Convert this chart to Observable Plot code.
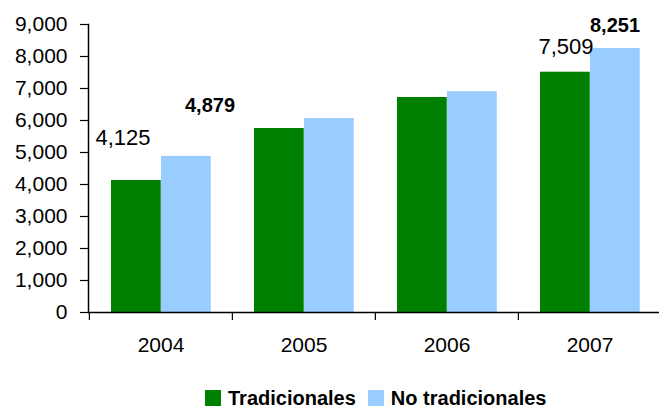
<!DOCTYPE html>
<html>
<head>
<meta charset="utf-8">
<script src="https://cdn.jsdelivr.net/npm/d3@7"></script>
<script src="https://cdn.jsdelivr.net/npm/@observablehq/plot@0.6"></script>
<style>
  html, body { margin: 0; padding: 0; background: #fff; overflow: hidden; }
  #chart { width: 659px; }
  .legend { display: flex; align-items: center; font-family: "Liberation Sans", Arial, sans-serif; font-weight: bold; font-size: 20px; color: #000; padding-left: 205px; margin-top: 15px; height: 22px; }
  .legend span.sw { display: inline-block; width: 16px; height: 16px; margin-right: 7px; }
  .legend span.item { display: inline-flex; align-items: center; margin-right: 12px; white-space: nowrap; }
</style>
</head>
<body>
<div id="chart"></div>
<script>
const years = ["2004", "2005", "2006", "2007"];
const tradicionales = [4125, 5750, 6720, 7509];
const noTradicionales = [4879, 6060, 6900, 8251];
const seriesNames = ["Tradicionales", "No tradicionales"];
const seriesColors = ["#008000", "#99ccff"];
const yTicks = [0, 1000, 2000, 3000, 4000, 5000, 6000, 7000, 8000, 9000];
const labeledYears = ["2004", "2007"];

const rows = years.map((y, i) => ({year: y, trad: tradicionales[i], notrad: noTradicionales[i]}));
const fmt = d3.format(",");
const font = '"Liberation Sans", Arial, sans-serif';

const W = 659, ML = 88, MR = -2;
const step = (W - ML - MR) / years.length;

const chart = Plot.plot({
  width: W,
  height: 372,
  marginLeft: ML,
  marginRight: MR,
  marginTop: 24,
  marginBottom: 60,
  style: {fontFamily: font, fontSize: "21px", color: "#000", background: "#fff", overflow: "hidden"},
  x: {domain: years, padding: 0, label: null},
  y: {domain: [0, 9000], label: null},
  marks: [
    Plot.barY(rows, {x: "year", y: "trad", fill: seriesColors[0], insetLeft: 22, insetRight: step - 72}),
    Plot.barY(rows, {x: "year", y: "notrad", fill: seriesColors[1], insetLeft: 72, insetRight: step - 122}),
    Plot.ruleY([0], {stroke: "#000", strokeWidth: 1.5}),
    Plot.frame({anchor: "left", stroke: "#000", strokeWidth: 1.5}),
    Plot.axisY({ticks: yTicks, tickFormat: fmt, tickSize: 8, tickPadding: 13, fontSize: 21, stroke: "#000", strokeWidth: 1.2}),
    Plot.axisX({tickSize: 0, tickPadding: 25, fontSize: 21, label: null}),
    Plot.axisX({tickSize: 8, tickFormat: null, dx: -step / 2, stroke: "#000", strokeWidth: 1.2, label: null}),
    Plot.text(rows.filter(d => d.year === labeledYears[0]), {x: "year", y: "trad", text: d => fmt(d.trad), dx: -38, dy: -43, fontSize: 22, fill: "#000"}),
    Plot.text(rows.filter(d => d.year === labeledYears[0]), {x: "year", y: "notrad", text: d => fmt(d.notrad), dx: 49, dy: -51, fontSize: 20, fontWeight: "bold", fill: "#000"}),
    Plot.text(rows.filter(d => d.year === labeledYears[1]), {x: "year", y: "trad", text: d => fmt(d.trad), dx: -24, dy: -25, fontSize: 22, fill: "#000"}),
    Plot.text(rows.filter(d => d.year === labeledYears[1]), {x: "year", y: "notrad", text: d => fmt(d.notrad), dx: 25, dy: -23, fontSize: 20, fontWeight: "bold", fill: "#000"})
  ]
});
document.getElementById("chart").appendChild(chart);

const legend = document.createElement("div");
legend.className = "legend";
seriesNames.forEach((name, i) => {
  const item = document.createElement("span");
  item.className = "item";
  const sw = document.createElement("span");
  sw.className = "sw";
  sw.style.background = seriesColors[i];
  item.appendChild(sw);
  item.appendChild(document.createTextNode(name));
  legend.appendChild(item);
});
document.getElementById("chart").appendChild(legend);
</script>
</body>
</html>
